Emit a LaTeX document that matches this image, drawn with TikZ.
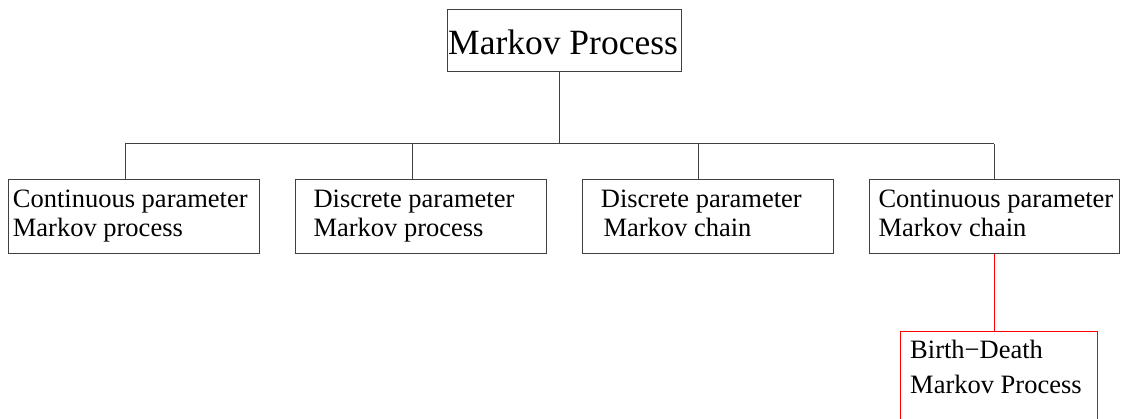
\documentclass[tikz,border=0pt]{standalone}
\usepackage{fontspec}
\setmainfont{Liberation Serif}
\begin{document}
\begin{tikzpicture}[x=1pt,y=-1pt,
  box/.style={draw=black!75, line width=1pt, inner sep=0pt, outer sep=0pt,
              anchor=north west, minimum height=74pt},
  redbox/.style={draw=red, line width=1pt, inner sep=0pt, outer sep=0pt,
              anchor=north west},
  wire/.style={draw=black!75, line width=1pt},
  txt/.style={anchor=base west, inner sep=0pt, font=\fontsize{26.5}{29}\selectfont},
  bigtxt/.style={anchor=base west, inner sep=0pt, font=\fontsize{35.5}{40}\selectfont}]
\useasboundingbox (0,0) rectangle (1125,419);
\clip (0,0) rectangle (1125,419);

% root of the tree
\node[box, minimum width=233.3pt, minimum height=62.4pt] (top) at (447.7,9.3) {};
\node[bigtxt] (topA) at (448,55) {Markov Process};

% four kinds of Markov process
\node[box, minimum width=251pt] (b1) at (8.3,180) {};
\node[txt] (b1A) at (12.7,207.3) {Continuous parameter};
\node[txt] (b1B) at (12.7,236.3) {Markov process};

\node[box, minimum width=251pt] (b2) at (295,180) {};
\node[txt] (b2A) at (313.3,207.3) {Discrete parameter};
\node[txt] (b2B) at (313.3,236.3) {Markov process};

\node[box, minimum width=250.6pt] (b3) at (582.7,180) {};
\node[txt] (b3A) at (600.7,207.3) {Discrete parameter};
\node[txt] (b3B) at (603.3,236.3) {Markov chain};

\node[box, minimum width=250pt] (b4) at (869.3,180) {};
\node[txt] (b4A) at (878.3,207.3) {Continuous parameter};
\node[txt] (b4B) at (878.3,236.3) {Markov chain};

% special case below the CTMC
\node[redbox, minimum width=197pt, minimum height=130pt] (bd) at (900.7,331.7) {};
\node[txt] (bdA) at (910,359) {Birth−Death};
\node[txt] (bdB) at (910,394) {Markov Process};

% tree connectors
\coordinate (j0) at (559.3,144);
\coordinate (j1) at (125,144);
\coordinate (j2) at (412.3,144);
\coordinate (j3) at (698.3,144);
\coordinate (j4) at (994.3,144);
\draw[wire] (top.south -| j0) -- (j0);
\draw[wire] (j1) -- (j4);
\foreach \i in {1,2,3,4}
  \draw[wire] (j\i) -- (b\i.north -| j\i);
\draw[red, line width=1pt] (b4.south) -- (bd.north -| b4.south);
\end{tikzpicture}
\end{document}
